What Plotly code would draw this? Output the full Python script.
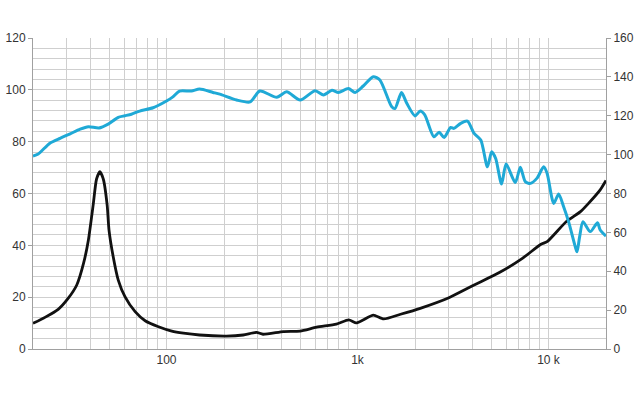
import plotly.graph_objects as go

# SPL (right axis, dB)
spl_freq = [20, 21.3, 24.5, 27.7, 31.3, 35.3, 39, 44.3, 49.5, 55.9, 60.5, 65.5, 72.4, 85, 100, 108, 117, 135, 149, 175, 190,
            233, 274, 308, 378, 426, 501, 600, 664, 735, 794, 896, 971, 1072, 1209, 1310, 1508, 1570, 1700, 1811, 2000,
            2130, 2250, 2510, 2675, 2840, 3075, 3200, 3470, 3765, 4080, 4420, 4790, 5040, 5290, 5680, 6000, 6700, 7120,
            7560, 8040, 8710, 9430, 9830, 10650, 11300, 12000, 12740, 13800, 14100, 14550, 15150, 16550, 18050, 18650, 20000]
spl_db = [99.3, 100.3, 105.9, 108.4, 110.7, 113.1, 114.4, 113.7, 115.7, 119.2, 120, 120.8, 122.4, 124.1, 127.6, 129.7,
          132.7, 132.7, 133.7, 132, 131.1, 128.1, 127.1, 132.7, 129.5, 132.3, 128.1, 132.9, 130.7, 133.1, 132, 134, 132,
          135.3, 140.1, 138.4, 124.7, 123.7, 131.9, 126.4, 119.9, 122.4, 120.4, 109.2, 111.5, 108.8, 114, 113.5, 116.1,
          117.2, 110.9, 107.5, 93.7, 101.5, 98, 84.9, 95.2, 85.6, 93.5, 86.1, 85.2, 87.9, 93.7, 90.4, 74.9, 79.7, 73.2,
          65.5, 52.7, 50, 57.7, 65.5, 60.4, 64.9, 61.2, 58.1]

# Impedance (left axis, ohm)
imp_freq = [20, 23.1, 27.1, 30.6, 33.9, 36.8, 39.0, 41.3, 43.0, 44.8, 46.7, 48.9, 50.0, 52.6, 55.9, 60.6, 68.5, 77.3,
            90.8, 106.6, 122.7, 149, 206, 252, 296, 320, 410, 501, 611, 775, 900, 985, 1070, 1210, 1370, 1680, 2130,
            3010, 4080, 5560, 7300, 9140, 9830, 12370, 14700, 16200, 18650, 20000]
imp_ohm = [9.9, 12.2, 15.3, 19.6, 24.7, 33.1, 42.1, 55.5, 65.5, 68.4, 65.5, 55.5, 45.9, 35.6, 26.6, 20.2, 14.4, 10.9,
           8.6, 6.9, 6.1, 5.4, 5.0, 5.4, 6.4, 5.7, 6.7, 6.9, 8.4, 9.6, 11.2, 10.1, 11.2, 13.1, 11.6, 13.4, 15.7, 19.8,
           24.7, 29.6, 35, 40.4, 41.4, 49.1, 53, 56.2, 61.4, 65]

grid_x = [m * d for d in (10, 100, 1000, 10000) for m in range(2, 11) if 20 <= m * d <= 20000]
grid_x = sorted(set(grid_x))
x_labels = {100: "100", 1000: "1k", 10000: "10 k"}
x_text = [x_labels.get(v, "") for v in grid_x]

left_ticks = list(range(0, 121, 20))
right_ticks = list(range(0, 161, 20))

fig = go.Figure()
fig.add_trace(go.Scatter(x=spl_freq, y=spl_db, yaxis="y2", mode="lines",
                         line=dict(color="#1fa9d6", width=3, shape="spline", smoothing=0.7), showlegend=False))
fig.add_trace(go.Scatter(x=imp_freq, y=imp_ohm, mode="lines",
                         line=dict(color="#111111", width=2.8, shape="spline", smoothing=0.6), showlegend=False))

font = dict(family="Liberation Sans, Arial, sans-serif", size=12, color="#333333")
fig.update_layout(
    width=640, height=400,
    margin=dict(l=33, r=34, t=38, b=51),
    paper_bgcolor="white", plot_bgcolor="white",
    font=font,
    xaxis=dict(type="log", range=[1.30103, 4.30103], tickvals=grid_x, ticktext=x_text, automargin=False,
               showgrid=True, gridcolor="#cfcfcf", gridwidth=1, ticks="", showline=True,
               linecolor="#a0a0a0", linewidth=1, zeroline=False, tickfont=font),
    yaxis=dict(range=[0, 120], tickvals=left_ticks, showgrid=True, gridcolor="#cfcfcf", automargin=False,
               minor=dict(dtick=4, showgrid=True, gridcolor="#cfcfcf", ticks=""),
               ticks="outside", ticklen=4, tickcolor="#a0a0a0", showline=True, linecolor="#a0a0a0",
               zeroline=False, tickfont=font),
    yaxis2=dict(range=[0, 160], tickvals=right_ticks, overlaying="y", side="right", showgrid=False, automargin=False,
                ticks="outside", ticklen=4, tickcolor="#a0a0a0", showline=True, linecolor="#a0a0a0",
                zeroline=False, tickfont=font),
)
fig.write_html("out.html")
